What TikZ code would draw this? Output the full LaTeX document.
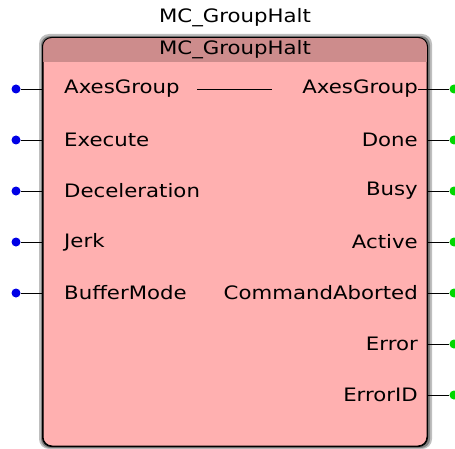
\documentclass[tikz,border=0pt]{standalone}
\usepackage{fontspec}
\setmainfont{DejaVu Sans}[FakeStretch=1.15]
\usetikzlibrary{positioning}

\definecolor{bodyred}{RGB}{255,176,176}
\definecolor{hdrred}{RGB}{205,140,140}
\definecolor{pinblue}{RGB}{0,0,230}
\definecolor{pingreen}{RGB}{0,215,0}

\tikzset{
    fbtext/.style={font=\fontsize{18.5}{20}\selectfont, inner sep=0pt},
    fbbox/.style={draw=black, line width=1pt, fill=bodyred, rounded corners=9pt,
        minimum width=384pt, minimum height=408pt, inner sep=0pt},
    pinin/.style={circle, fill=pinblue, inner sep=0pt, minimum size=9pt},
    pinout/.style={circle, fill=pingreen, inner sep=0pt, minimum size=9pt},
    wire/.style={line width=0.8pt}
}

\begin{document}
\begin{tikzpicture}[x=1pt,y=1pt]
    \useasboundingbox (0,0) rectangle (455,448);
    % shadow
    \fill[black!25, rounded corners=10pt] (39,-1) rectangle (432,414);
    \fill[black!50, rounded corners=9pt] (41,0) rectangle (430,412);
    \node[fbbox] (fb) at (235,206) {};
    \begin{scope}
        \clip[rounded corners=9pt] (fb.south west) rectangle (fb.north east);
        \fill[hdrred] (fb.north west) rectangle (427,386);
    \end{scope}
    \draw[line width=1pt, rounded corners=9pt] (fb.south west) rectangle (fb.north east);
    \node[fbtext] (title) at (235,430) {MC\_GroupHalt};
    \node[fbtext] (head) at (235,398) {MC\_GroupHalt};
    \foreach \y/\name/\label in {359/a/AxesGroup,308/b/Execute,257/c/Deceleration,206/d/Jerk,155/e/BufferMode} {
        \node[pinin] (in\name) at (16,\y) {};
        \node[fbtext, anchor=west] (lin\name) at (64,\y) {\label};
        \draw[wire] (in\name) -- (in\name -| fb.west);
    }
    \foreach \y/\name/\label in {359/a/AxesGroup,308/b/Done,257/c/Busy,206/d/Active,155/e/CommandAborted,104/f/Error,53/g/ErrorID} {
        \node[pinout] (out\name) at (454,\y) {};
        \node[fbtext, anchor=east] (lout\name) at (418,\y) {\label};
        \draw[wire] (out\name) -- (out\name -| fb.east);
    }
    \draw[wire] (louta.east) -- (fb.east |- louta);
    \draw[wire] (197,359) -- (272,359);
\end{tikzpicture}
\end{document}
